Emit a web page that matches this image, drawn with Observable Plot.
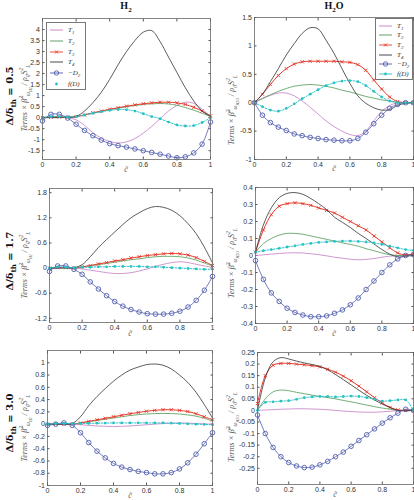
<!DOCTYPE html>
<html><head><meta charset="utf-8">
<script src="https://cdn.jsdelivr.net/npm/d3@7"></script>
<script src="https://cdn.jsdelivr.net/npm/@observablehq/plot@0.6"></script>
<style>
body{margin:0;background:#fff;}
#root{position:relative;width:414px;height:500px;overflow:hidden;font-family:"Liberation Sans",Arial,sans-serif;}
.abs{position:absolute;white-space:nowrap;line-height:1;}
.ctr{transform:translate(-50%,-50%);}
.rot{transform:translate(-50%,-50%) rotate(-90deg);}
.hdr{font-family:"Liberation Serif","DejaVu Serif",serif;font-weight:bold;font-size:10px;color:#111;}
.row{font-family:"DejaVu Serif",serif;font-weight:bold;font-size:10px;color:#111;}
.ylab{font-family:"Liberation Serif","DejaVu Serif",serif;font-style:italic;font-size:8px;color:#555;}
.xlab{font-family:"Liberation Serif","DejaVu Serif",serif;font-style:italic;font-size:8px;color:#555;}
sub,sup{font-size:70%;line-height:0;}
.legend{position:absolute;border:1px solid #777;background:#fff;font-family:"Liberation Serif","DejaVu Serif",serif;font-style:italic;font-size:7px;color:#333;box-sizing:border-box;padding:2px 0 0 2px;}
.lrow{display:flex;align-items:center;}
.lrow svg{margin-right:3px;}
.panel{position:absolute;}
</style>
</head><body>
<div id="root"></div>
<script>
// ---------- data ----------
const cx = [0,0.05,0.1,0.15,0.2,0.25,0.3,0.35,0.4,0.45,0.5,0.55,0.6,0.65,0.7,0.75,0.8,0.85,0.9,0.95,1];
const xTicks = [0,0.2,0.4,0.6,0.8,1];
const seriesNames = ["T1","T2","T3","T4","-D2","f(D)"];
const columnTitles = ["H2","H2O"];
const rowRatios = ["0.5","1.7","3.0"];

// H2, Δ/δth = 0.5
const h2a_T1 = [0,0.05,0.05,0,-0.1,-0.35,-0.68,-0.93,-1.08,-1.15,-1.1,-0.95,-0.7,-0.4,-0.05,0.3,0.55,0.7,0.65,0.38,0.05];
const h2a_T2 = [0,0.02,0.03,0.02,0.05,0.12,0.2,0.28,0.36,0.43,0.5,0.55,0.6,0.63,0.64,0.62,0.56,0.46,0.34,0.2,0.05];
const h2a_T3 = [0,0.02,0.03,0.02,0.05,0.12,0.22,0.3,0.38,0.45,0.52,0.58,0.63,0.67,0.7,0.7,0.67,0.6,0.47,0.3,0.08];
const h2a_T4 = [0,0,0,0.01,0.05,0.3,0.68,1.15,1.74,2.4,3.0,3.5,3.88,3.95,3.45,2.75,2.05,1.36,0.76,0.3,0.05];
const h2a_D2 = [-0.15,0.15,0.15,-0.02,-0.3,-0.58,-0.82,-1.02,-1.18,-1.27,-1.34,-1.42,-1.5,-1.58,-1.66,-1.74,-1.82,-1.78,-1.6,-1.2,-0.2];
const h2a_fD = [0,0.05,0.05,0.02,0.05,0.12,0.2,0.27,0.33,0.37,0.36,0.3,0.18,0.05,-0.05,-0.2,-0.33,-0.38,-0.36,-0.22,0];
const h2a_yTicks = [-1.5,-1,-0.5,0,0.5,1,1.5,2,2.5,3,3.5,4];

// H2O, Δ/δth = 0.5
const h2oa_T1 = [0,0.08,0.13,0.17,0.17,0.12,0.03,-0.08,-0.2,-0.32,-0.42,-0.5,-0.56,-0.58,-0.5,-0.32,-0.15,-0.05,0,0.01,0];
const h2oa_T2 = [0,0.07,0.14,0.2,0.25,0.29,0.31,0.32,0.31,0.29,0.26,0.22,0.19,0.15,0.11,0.08,0.05,0.03,0.01,0,0];
const h2oa_T3 = [0,0.15,0.32,0.48,0.6,0.68,0.72,0.73,0.73,0.73,0.73,0.72,0.71,0.67,0.57,0.4,0.24,0.1,0.02,0,0];
const h2oa_T4 = [0,0.15,0.37,0.6,0.84,1.04,1.22,1.32,1.3,1.1,0.87,0.6,0.34,0.12,-0.01,-0.09,-0.13,-0.12,-0.05,-0.01,0];
const h2oa_D2 = [0,-0.22,-0.35,-0.43,-0.49,-0.55,-0.58,-0.61,-0.63,-0.65,-0.66,-0.67,-0.67,-0.63,-0.52,-0.37,-0.22,-0.1,-0.03,0,0];
const h2oa_fD = [0,-0.07,-0.13,-0.15,-0.1,-0.02,0.07,0.15,0.23,0.3,0.35,0.38,0.39,0.37,0.3,0.2,0.1,0.03,0,0,0];
const h2oa_yTicks = [-1,-0.5,0,0.5,1,1.5];

// H2, Δ/δth = 1.7
const h2b_T1 = [0,0.01,0.01,0,-0.02,-0.05,-0.08,-0.11,-0.13,-0.13,-0.11,-0.07,-0.02,0.04,0.09,0.13,0.15,0.13,0.09,0.05,0.02];
const h2b_T2 = [0,0.01,0.01,0,0.02,0.05,0.08,0.11,0.14,0.17,0.2,0.22,0.25,0.27,0.28,0.28,0.27,0.24,0.19,0.12,0.05];
const h2b_T3 = [0,0.01,0.01,0,0.03,0.06,0.1,0.13,0.17,0.2,0.24,0.27,0.3,0.32,0.34,0.35,0.34,0.31,0.25,0.16,0.06];
const h2b_T4 = [0,0,0,0.01,0.08,0.27,0.49,0.68,0.86,1.04,1.2,1.32,1.42,1.47,1.45,1.38,1.25,1.06,0.82,0.5,0.12];
const h2b_D2 = [-0.08,0.05,0.05,-0.03,-0.15,-0.33,-0.5,-0.66,-0.8,-0.91,-0.99,-1.05,-1.09,-1.1,-1.1,-1.08,-1.03,-0.93,-0.77,-0.53,-0.2];
const h2b_fD = [0,0.03,0.02,0.01,0.02,0.02,0.03,0.03,0.04,0.04,0.04,0.04,0.03,0.03,0.02,0.01,0,-0.01,-0.02,-0.03,-0.03];
const h2b_yTicks = [-1.2,-0.6,0,0.6,1.2,1.8];

// H2O, Δ/δth = 1.7
const h2ob_T1 = [0,0.004,0.008,0.012,0.015,0.016,0.015,0.01,0.005,-0.002,-0.01,-0.016,-0.022,-0.025,-0.023,-0.018,-0.01,-0.004,0,0.003,0.005];
const h2ob_T2 = [0.02,0.07,0.1,0.12,0.13,0.13,0.125,0.115,0.105,0.095,0.085,0.075,0.065,0.055,0.04,0.028,0.015,0.005,0,0,0.005];
const h2ob_T3 = [0.02,0.15,0.24,0.29,0.305,0.31,0.305,0.295,0.28,0.265,0.25,0.225,0.2,0.175,0.15,0.115,0.08,0.045,0.015,0.003,0.01];
const h2ob_T4 = [0.02,0.18,0.28,0.34,0.365,0.37,0.36,0.335,0.305,0.27,0.225,0.195,0.165,0.13,0.1,0.068,0.035,0.008,-0.008,-0.005,0];
const h2ob_D2 = [-0.03,-0.14,-0.22,-0.27,-0.31,-0.335,-0.35,-0.36,-0.36,-0.355,-0.34,-0.32,-0.29,-0.25,-0.2,-0.15,-0.1,-0.055,-0.02,0,0.005];
const h2ob_fD = [0.02,0.028,0.035,0.042,0.05,0.057,0.065,0.071,0.077,0.08,0.083,0.085,0.085,0.083,0.08,0.074,0.065,0.055,0.045,0.035,0.03];
const h2ob_yTicks = [-0.4,-0.3,-0.2,-0.1,0,0.1,0.2,0.3,0.4];

// H2, Δ/δth = 3.0
const h2c_T1 = [0,0,0,0,-0.01,-0.02,-0.03,-0.035,-0.04,-0.035,-0.03,-0.02,-0.01,0,0.01,0.015,0.02,0.015,0.01,0.005,0];
const h2c_T2 = [0,0,0,0,0.02,0.04,0.06,0.08,0.1,0.12,0.14,0.155,0.165,0.172,0.175,0.172,0.165,0.15,0.13,0.095,0.05];
const h2c_T3 = [0,0,0,0,0.02,0.045,0.07,0.095,0.12,0.145,0.17,0.19,0.21,0.225,0.235,0.235,0.225,0.205,0.17,0.12,0.07];
const h2c_T4 = [0,0,0,0.01,0.12,0.3,0.45,0.58,0.7,0.8,0.88,0.93,0.97,0.98,0.96,0.9,0.8,0.68,0.52,0.32,0.1];
const h2c_D2 = [-0.02,0,0.02,-0.02,-0.14,-0.3,-0.44,-0.55,-0.64,-0.7,-0.74,-0.77,-0.79,-0.81,-0.81,-0.79,-0.73,-0.63,-0.49,-0.32,-0.14];
const h2c_fD = [0,0.01,0.01,0.01,0.01,0.012,0.015,0.017,0.02,0.02,0.02,0.02,0.02,0.02,0.02,0.015,0.01,0.005,0,-0.005,-0.01];
const h2c_yTicks = [-1,-0.8,-0.6,-0.4,-0.2,0,0.2,0.4,0.6,0.8,1];

// H2O, Δ/δth = 3.0
const h2oc_T1 = [0,0.002,0.003,0.005,0.006,0.007,0.007,0.006,0.005,0.003,0,-0.003,-0.005,-0.007,-0.008,-0.008,-0.006,-0.004,0,0,0];
const h2oc_T2 = [0,0.05,0.08,0.088,0.085,0.078,0.072,0.066,0.06,0.055,0.05,0.043,0.037,0.03,0.023,0.016,0.01,0.005,0,0,0];
const h2oc_T3 = [0.03,0.15,0.195,0.203,0.203,0.2,0.197,0.193,0.188,0.178,0.165,0.148,0.128,0.105,0.08,0.055,0.032,0.013,0.002,0,0];
const h2oc_T4 = [0,0.14,0.21,0.228,0.222,0.213,0.205,0.198,0.19,0.175,0.155,0.133,0.11,0.087,0.065,0.045,0.027,0.012,0,-0.002,0];
const h2oc_D2 = [-0.02,-0.1,-0.16,-0.2,-0.225,-0.24,-0.247,-0.245,-0.235,-0.22,-0.2,-0.18,-0.155,-0.13,-0.105,-0.08,-0.055,-0.032,-0.012,0.005,0];
const h2oc_fD = [0,0.035,0.037,0.04,0.042,0.048,0.055,0.058,0.06,0.06,0.058,0.06,0.062,0.06,0.055,0.048,0.04,0.042,0.045,0.045,0];
const h2oc_yTicks = [-0.25,-0.2,-0.15,-0.1,-0.05,0,0.05,0.1,0.15,0.2,0.25];

// ---------- styles ----------
const colors = {"T1":"#c47cc4","T2":"#4e9a55","T3":"#e63a2c","T4":"#333333","-D2":"#4f5cae","f(D)":"#27c2c6"};

// ---------- layout ----------
const panels = [
  {L:42,R:210,T:18,B:159,dom:[-1.9,4.5],ticks:h2a_yTicks,s:[h2a_T1,h2a_T2,h2a_T3,h2a_T4,h2a_D2,h2a_fD],legend:{x:46,y:22,w:40,h:68}},
  {L:254,R:413,T:17,B:159,dom:[-1,1.5],ticks:h2oa_yTicks,s:[h2oa_T1,h2oa_T2,h2oa_T3,h2oa_T4,h2oa_D2,h2oa_fD],legend:{x:375,y:18,w:38,h:62}},
  {L:49,R:212,T:188,B:322,dom:[-1.3,1.9],ticks:h2b_yTicks,s:[h2b_T1,h2b_T2,h2b_T3,h2b_T4,h2b_D2,h2b_fD]},
  {L:255,R:413,T:187,B:323,dom:[-0.4,0.4],ticks:h2ob_yTicks,s:[h2ob_T1,h2ob_T2,h2ob_T3,h2ob_T4,h2ob_D2,h2ob_fD]},
  {L:47,R:212,T:350,B:485,dom:[-1,1.2],ticks:h2c_yTicks,s:[h2c_T1,h2c_T2,h2c_T3,h2c_T4,h2c_D2,h2c_fD]},
  {L:257,R:413,T:352,B:484,dom:[-0.32,0.25],ticks:h2oc_yTicks,s:[h2oc_T1,h2oc_T2,h2oc_T3,h2oc_T4,h2oc_D2,h2oc_fD]}
];
const ML=32, MR=1, MT=4, MB=14;
const root = document.getElementById("root");
const fmt = d => String(d);
const empty = () => "";

panels.forEach((p, pi) => {
  const rows = [];
  p.s.forEach((vals, si) => vals.forEach((v, i) => rows.push({name: seriesNames[si], x: cx[i], y: v})));
  const of = n => rows.filter(r => r.name === n);
  const marks = [
    Plot.axisX({ticks: xTicks, tickSize: -2.5, tickPadding: 5, tickFormat: fmt, label: null, stroke:"#555"}),
    Plot.axisX({anchor: "top", ticks: xTicks, tickSize: -2.5, tickFormat: empty, label: null, stroke:"#555"}),
    Plot.axisY({ticks: p.ticks, tickSize: -2.5, tickPadding: 5, tickFormat: fmt, label: null, stroke:"#555"}),
    Plot.axisY({anchor: "right", ticks: p.ticks, tickSize: -2.5, tickFormat: empty, label: null, stroke:"#555"}),
    Plot.line(of("T1"), {x:"x", y:"y", stroke: colors["T1"], strokeWidth: 0.8, curve: "catmull-rom"}),
    Plot.line(of("T2"), {x:"x", y:"y", stroke: colors["T2"], strokeWidth: 0.8, curve: "catmull-rom"}),
    Plot.line(of("T3"), {x:"x", y:"y", stroke: colors["T3"], strokeWidth: 1, curve: "catmull-rom"}),
    Plot.dot(of("T3"), {x:"x", y:"y", stroke: colors["T3"], symbol: "times", r: 1.6, strokeWidth: 0.9}),
    Plot.line(of("T4"), {x:"x", y:"y", stroke: colors["T4"], strokeWidth: 0.8, curve: "catmull-rom"}),
    Plot.line(of("-D2"), {x:"x", y:"y", stroke: colors["-D2"], strokeWidth: 0.8, curve: "catmull-rom"}),
    Plot.dot(of("-D2"), {x:"x", y:"y", stroke: colors["-D2"], r: 2.3, strokeWidth: 0.9, fill: "none"}),
    Plot.line(of("f(D)"), {x:"x", y:"y", stroke: colors["f(D)"], strokeWidth: 1, strokeDasharray: "1.5,1.5", curve: "catmull-rom"}),
    Plot.dot(of("f(D)"), {x:"x", y:"y", fill: colors["f(D)"], r: 1.4}),
    Plot.frame({stroke: "#666", strokeWidth: 0.8})
  ];
  const W = p.R - p.L + ML + MR, H = p.B - p.T + MT + MB;
  const svg = Plot.plot({
    width: W, height: H, marginLeft: ML, marginRight: MR, marginTop: MT, marginBottom: MB,
    x: {domain: [0, 1]}, y: {domain: p.dom},
    style: {fontSize: "7px", fontFamily: "Liberation Sans, Arial, sans-serif", color: "#333", background: "transparent", overflow: "visible"},
    marks
  });
  const wrap = document.createElement("div");
  wrap.className = "panel";
  wrap.style.left = (p.L - ML) + "px";
  wrap.style.top = (p.T - MT) + "px";
  wrap.appendChild(svg);
  root.appendChild(wrap);

  if (p.legend) {
    const lg = document.createElement("div");
    lg.className = "legend";
    Object.assign(lg.style, {left: p.legend.x + "px", top: p.legend.y + "px", width: p.legend.w + "px", height: p.legend.h + "px"});
    const rh = (p.legend.h - 4) / 6;
    const labels = ["T<sub>1</sub>","T<sub>2</sub>","T<sub>3</sub>","T<sub>4</sub>","−D<sub>2</sub>","f(D)"];
    seriesNames.forEach((n, i) => {
      const c = colors[n];
      let sw = `<line x1="1" y1="4" x2="14" y2="4" stroke="${c}" stroke-width="0.9"/>`;
      if (n === "T3") sw += `<path d="M6 2.5L9 5.5M9 2.5L6 5.5" stroke="${c}" stroke-width="0.9"/>`;
      if (n === "-D2") sw += `<circle cx="7.5" cy="4" r="2.2" fill="none" stroke="${c}" stroke-width="0.9"/>`;
      if (n === "f(D)") sw = (pi === 0 ? "" : sw) + `<circle cx="7.5" cy="4" r="1.4" fill="${c}"/>`;
      lg.insertAdjacentHTML("beforeend", `<div class="lrow" style="height:${rh}px"><svg width="16" height="8">${sw}</svg><span>${labels[i]}</span></div>`);
    });
    root.appendChild(lg);
  }
});

// ---------- text ----------
function addText(cls, html, x, y, extra) {
  const d = document.createElement("div");
  d.className = "abs " + cls;
  d.style.left = x + "px"; d.style.top = y + "px";
  d.innerHTML = html;
  root.appendChild(d);
}
addText("hdr ctr", "H<sub>2</sub>", 126, 6);
addText("hdr ctr", "H<sub>2</sub>O", 334, 6);
const rowY = [96, 261, 423];
rowRatios.forEach((r, i) => addText("row rot", `Δ/δ<sub>th</sub> = ${r}`, 10, rowY[i]));
const ylabL = [98, 265, 428], ylabR = [110, 263, 427];
ylabL.forEach(y => addText("ylab rot", "Terms × β̃<sup>2</sup><sub>ω<sub>H2</sub></sub> / ρ<sub>0</sub>S<sup>2</sup><sub>L</sub>", 26, y));
ylabR.forEach(y => addText("ylab rot", "Terms × β̃<sup>2</sup><sub>ω<sub>H2O</sub></sub> / ρ<sub>0</sub>S<sup>2</sup><sub>L</sub>", 233, y));
const xlab = [[126,170],[334,169],[130,334],[334,334],[130,496],[335,495]];
xlab.forEach(([x,y]) => addText("xlab ctr", "c̃", x, y));
</script>
</body></html>
